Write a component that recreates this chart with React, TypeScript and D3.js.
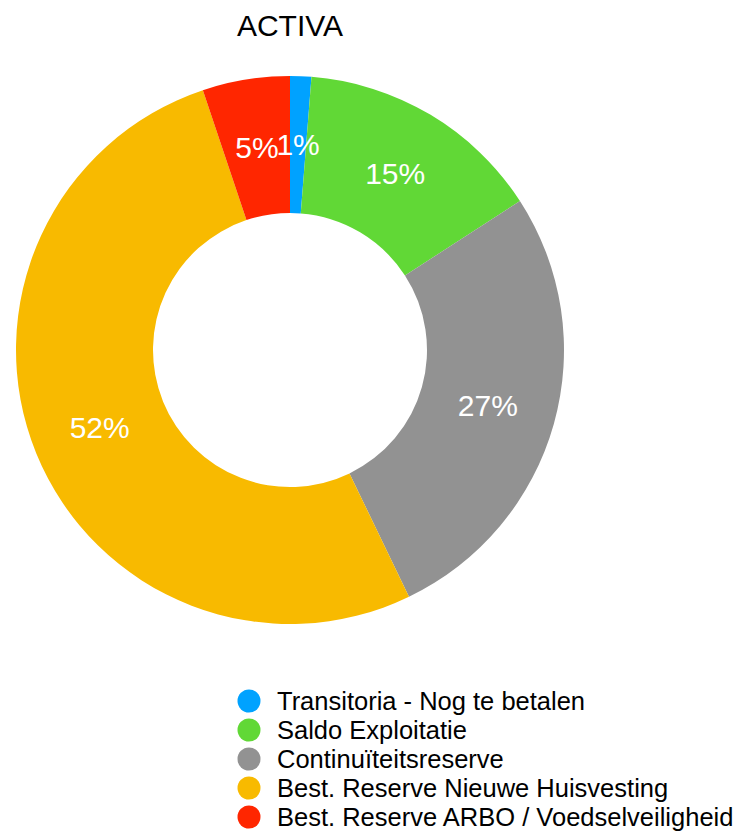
import React from "react";
import * as d3 from "d3";

const categories = [
  "Transitoria - Nog te betalen",
  "Saldo Exploitatie",
  "Continuïteitsreserve",
  "Best. Reserve Nieuwe Huisvesting",
  "Best. Reserve ARBO / Voedselveiligheid",
];
const values = [1.25, 14.6, 27.0, 52.0, 5.15];
const colors = ["#00A2FF", "#61D836", "#929292", "#F8BA00", "#FF2600"];
const title = "ACTIVA";

const W = 738;
const H = 833;
const cx = 290;
const cy = 350;
const outerR = 274;
const innerR = 137;
const FONT = "'Liberation Sans', Arial, Helvetica, sans-serif";

export default function App() {
  const total = d3.sum(values);
  const pie = d3.pie<number>().sort(null).value((d) => d);
  const arcs = pie(values);
  const arc = d3.arc<d3.PieArcDatum<number>>().innerRadius(innerR).outerRadius(outerR);
  const fmt = (v: number) => `${Math.round((v / total) * 100)}%`;

  return (
    <svg width={W} height={H} style={{ position: "absolute", left: 0, top: 0 }}>
      <rect width={W} height={H} fill="#fff" />
      <text x={cx} y={36} textAnchor="middle" fontFamily={FONT} fontSize={30} fill="#000">
        {title}
      </text>
      <g transform={`translate(${cx},${cy})`}>
        {arcs.map((a, i) => (
          <path key={i} d={arc(a) || ""} fill={colors[i]} />
        ))}
        {arcs.map((a, i) => {
          const [x, y] = arc.centroid(a);
          return (
            <text
              key={"l" + i}
              x={x}
              y={y}
              textAnchor="middle"
              dominantBaseline="central"
              fontFamily={FONT}
              fontSize={30}
              fill="#fff"
            >
              {fmt(a.value)}
            </text>
          );
        })}
      </g>
      <g>
        {categories.map((c, i) => {
          const y = 701 + i * 29;
          return (
            <g key={c}>
              <circle cx={249} cy={y} r={11.5} fill={colors[i]} />
              <text x={277} y={y} dominantBaseline="central" fontFamily={FONT} fontSize={25.5} fill="#000">
                {c}
              </text>
            </g>
          );
        })}
      </g>
    </svg>
  );
}
